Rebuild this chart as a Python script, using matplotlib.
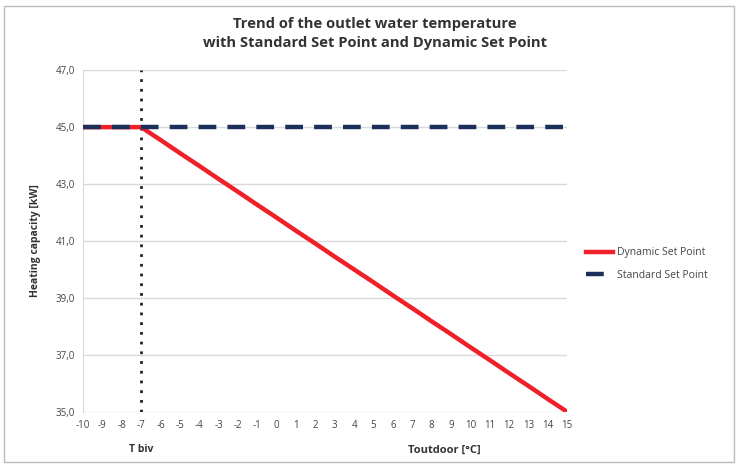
import matplotlib
matplotlib.use("Agg")
import matplotlib.pyplot as plt

x_values = [-10, -9, -8, -7, -6, -5, -4, -3, -2, -1, 0, 1, 2, 3, 4, 5,
            6, 7, 8, 9, 10, 11, 12, 13, 14, 15]
t_biv = -7
dynamic = [45.00, 45.00, 45.00, 45.00, 44.55, 44.09, 43.64, 43.18, 42.73, 42.27, 41.82, 41.36,
           40.91, 40.45, 40.00, 39.55, 39.09, 38.64, 38.18, 37.73, 37.27, 36.82, 36.36, 35.91,
           35.45, 35.00]
standard = [45.0, 45.0, 45.0, 45.0, 45.0, 45.0, 45.0, 45.0, 45.0, 45.0, 45.0, 45.0, 45.0,
            45.0, 45.0, 45.0, 45.0, 45.0, 45.0, 45.0, 45.0, 45.0, 45.0, 45.0, 45.0, 45.0]
y_ticks = [35, 37, 39, 41, 43, 45, 47]

plt.rcParams['font.family'] = ['Open Sans', 'DejaVu Sans']

fig = plt.figure(figsize=(7.38, 4.68), dpi=100)
ax = fig.add_axes([0.1125, 0.120, 0.656, 0.730])

ax.plot(x_values, dynamic, color='#F0202A', lw=3.2, label='Dynamic Set Point', zorder=3)
ax.plot(x_values, standard, color='#1A2F5A', lw=3.2, dashes=(4, 2.5), label='Standard Set Point', zorder=4)
ax.plot([t_biv, t_biv], [35, 47], color='#222222', lw=2.0, ls=(0, (1, 2.5)), zorder=2)

ax.set_xlim(-10, 15)
ax.set_ylim(35, 47)
ax.set_yticks(y_ticks)
ax.set_yticklabels([f"{v:.1f}".replace('.', ',') for v in y_ticks])
ax.set_xticks(x_values)
ax.set_xticklabels([str(v) for v in x_values])
ax.tick_params(axis='both', labelsize=7, length=0, colors='#444444', pad=6)
ax.yaxis.grid(True, color='#D9D9D9', lw=1)
for s in ['top', 'right', 'bottom']:
    ax.spines[s].set_visible(False)
ax.spines['left'].set_color('#D9D9D9')

ax.set_ylabel('Heating capacity [kW]', fontsize=7.5, fontweight='bold', color='#333333', labelpad=10)
ax.text(t_biv, -0.095, 'T biv', transform=ax.get_xaxis_transform(), ha='center', va='top',
        fontsize=7.5, fontweight='bold', color='#333333')
ax.text(8.65, -0.095, 'Toutdoor [°C]', transform=ax.get_xaxis_transform(), ha='center', va='top',
        fontsize=8, fontweight='bold', color='#333333')

fig.text(0.508, 0.928, 'Trend of the outlet water temperature\nwith Standard Set Point and Dynamic Set Point',
         ha='center', va='center', fontsize=10.6, fontweight='bold', color='#333333', linespacing=1.5)

leg = ax.legend(loc='center left', bbox_to_anchor=(1.02, 0.433), frameon=False, fontsize=7.5,
                handlelength=2.6, handletextpad=0.4, labelspacing=1.1)
for t in leg.get_texts():
    t.set_color('#444444')

border = plt.Rectangle((0.006, 0.012), 0.988, 0.976, transform=fig.transFigure, fill=False,
                       edgecolor='#BBBBBB', lw=1)
fig.patches.append(border)

fig.savefig('out.png', dpi=100)
